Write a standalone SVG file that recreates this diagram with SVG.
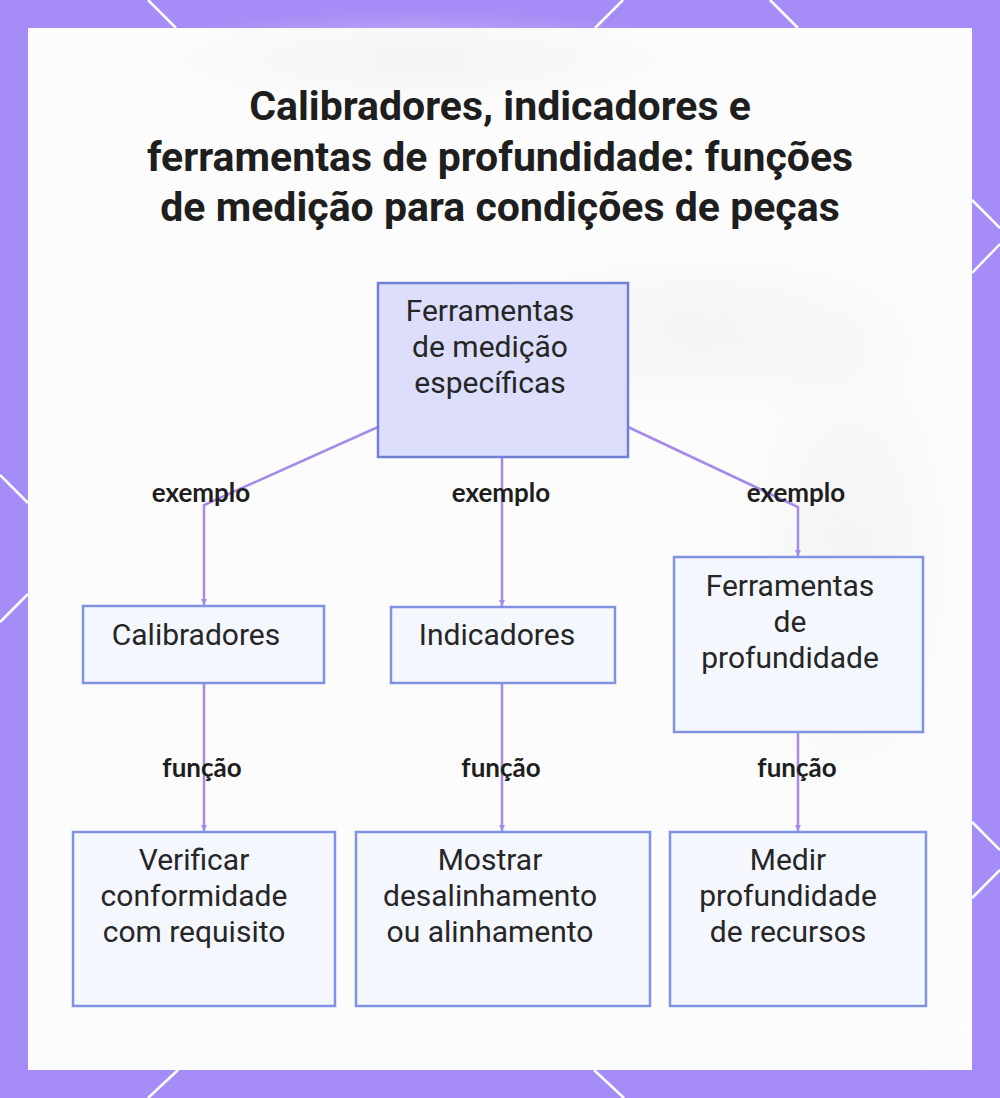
<svg xmlns="http://www.w3.org/2000/svg" width="1000" height="1098" viewBox="0 0 1000 1098">
  <defs>
    <style>
      .node { fill: #f5f7fe; stroke: #7f93e2; stroke-width: 2.5; }
      .root { fill: #dcdefc; stroke: #6f80d6; stroke-width: 2.5; }
      .ntext { font-family: Roboto, "Liberation Sans", sans-serif; font-size: 30px; fill: #262626; text-anchor: middle; }
      .title { font-family: Roboto, "Liberation Sans", sans-serif; font-size: 41px; font-weight: bold; fill: #1e1e1e; text-anchor: middle; }
      .label { font-family: Lato, Roboto, "Liberation Sans", sans-serif; font-size: 26px; font-weight: bold; fill: #1e1e1e; text-anchor: middle; }
      .conn { fill: none; stroke: #a58ae8; stroke-width: 2.5; }
      .frame { stroke: #ffffff; stroke-width: 2.5; fill: none; }
    </style>
    <marker id="arrow" markerWidth="8" markerHeight="8" refX="6" refY="4" orient="auto" markerUnits="userSpaceOnUse">
      <path d="M0,1 L6,4 L0,7 Z" fill="#a58ae8"/>
    </marker>
    <radialGradient id="blur1" cx="0.5" cy="0.5" r="0.5">
      <stop offset="0" stop-color="#ececec" stop-opacity="0.5"/>
      <stop offset="1" stop-color="#ececec" stop-opacity="0"/>
    </radialGradient>
  </defs>

  <!-- frame -->
  <rect x="0" y="0" width="1000" height="1098" fill="#a68cf6"/>
  <rect x="28" y="28" width="944" height="1042" fill="#fcfcfc"/>
  <ellipse cx="420" cy="60" rx="300" ry="50" fill="url(#blur1)"/>
  <ellipse cx="700" cy="330" rx="260" ry="90" fill="url(#blur1)"/>
  <ellipse cx="850" cy="560" rx="120" ry="260" fill="url(#blur1)"/>
  <g class="frame">
    <line x1="148" y1="0" x2="176" y2="28"/>
    <line x1="623" y1="0" x2="595" y2="28"/>
    <line x1="770" y1="0" x2="798" y2="28"/>
    <line x1="972" y1="200" x2="1000" y2="228"/>
    <line x1="1000" y1="244" x2="972" y2="273"/>
    <line x1="972" y1="822" x2="1000" y2="850"/>
    <line x1="1000" y1="870" x2="972" y2="898"/>
    <line x1="0" y1="475" x2="28" y2="503"/>
    <line x1="28" y1="594" x2="0" y2="622"/>
    <line x1="178" y1="1070" x2="148" y2="1098"/>
    <line x1="594" y1="1070" x2="624" y2="1098"/>
  </g>
  <circle cx="922" cy="1022" r="42" fill="none" stroke="#ffffff" stroke-width="1.5" opacity="0.8"/>

  <!-- title -->
  <g id="title">
    <text class="title" x="500" y="120">Calibradores, indicadores e</text>
    <text class="title" x="500" y="171">ferramentas de profundidade: funções</text>
    <text class="title" x="500" y="221">de medição para condições de peças</text>
  </g>

  <!-- connectors -->
  <g id="connectors">
    <polyline class="conn" points="378,427 204,505 204,605" marker-end="url(#arrow)"/>
    <polyline class="conn" points="502,457 502,606" marker-end="url(#arrow)"/>
    <polyline class="conn" points="628,427 798,507 798,556" marker-end="url(#arrow)"/>
    <polyline class="conn" points="204,683 204,831" marker-end="url(#arrow)"/>
    <polyline class="conn" points="502,683 502,831" marker-end="url(#arrow)"/>
    <polyline class="conn" points="798,732 798,831" marker-end="url(#arrow)"/>
    <text class="label" x="201" y="502">exemplo</text>
    <text class="label" x="501" y="502">exemplo</text>
    <text class="label" x="796" y="502">exemplo</text>
    <text class="label" x="202" y="777">função</text>
    <text class="label" x="501" y="777">função</text>
    <text class="label" x="797" y="777">função</text>
  </g>

  <!-- nodes -->
  <g id="node-root">
    <rect class="root" x="378" y="283" width="250" height="174"/>
    <text class="ntext" x="490" y="321">Ferramentas</text>
    <text class="ntext" x="490" y="357">de medição</text>
    <text class="ntext" x="490" y="393">específicas</text>
  </g>
  <g id="node-calibradores">
    <rect class="node" x="83" y="606" width="241" height="77"/>
    <text class="ntext" x="196" y="645">Calibradores</text>
  </g>
  <g id="node-indicadores">
    <rect class="node" x="391" y="607" width="224" height="76"/>
    <text class="ntext" x="497" y="645">Indicadores</text>
  </g>
  <g id="node-profundidade">
    <rect class="node" x="674" y="557" width="249" height="175"/>
    <text class="ntext" x="790" y="596">Ferramentas</text>
    <text class="ntext" x="790" y="632">de</text>
    <text class="ntext" x="790" y="668">profundidade</text>
  </g>
  <g id="node-verificar">
    <rect class="node" x="73" y="832" width="262" height="174"/>
    <text class="ntext" x="194" y="870">Verificar</text>
    <text class="ntext" x="194" y="906">conformidade</text>
    <text class="ntext" x="194" y="942">com requisito</text>
  </g>
  <g id="node-mostrar">
    <rect class="node" x="356" y="832" width="294" height="174"/>
    <text class="ntext" x="490" y="870">Mostrar</text>
    <text class="ntext" x="490" y="906">desalinhamento</text>
    <text class="ntext" x="490" y="942">ou alinhamento</text>
  </g>
  <g id="node-medir">
    <rect class="node" x="670" y="832" width="256" height="174"/>
    <text class="ntext" x="788" y="870">Medir</text>
    <text class="ntext" x="788" y="906">profundidade</text>
    <text class="ntext" x="788" y="942">de recursos</text>
  </g>
</svg>
